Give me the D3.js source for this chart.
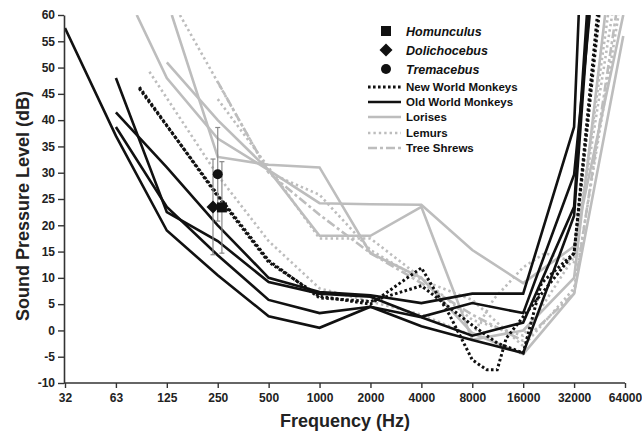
<!DOCTYPE html>
<html><head><meta charset="utf-8">
<script src="https://cdn.jsdelivr.net/npm/d3@7/dist/d3.min.js"></script>
<style>
body{margin:0;background:#fff;}
text{font-family:Arial,"Liberation Sans",Helvetica,sans-serif;}
</style>
</head><body>
<svg id="chart" width="642" height="438"></svg>
<script>
// ---- axis ticks ----
const freqTicks = [32,64,128,256,512,1024,2048,4096,8192,16384,32768,65536];
const freqLabels = ["32","63","125","250","500","1000","2000","4000","8000","16000","32000","64000"];
const dbTicks = [-10,-5,0,5,10,15,20,25,30,35,40,45,50,55,60];

// ---- Old World Monkeys (solid black) : [Hz, dB] ----
const owmA = [[32,57.5],[64,37],[128,19],[256,10.5],[512,2.7],[1024,0.5],[2048,4.5],[4096,0.8],[8192,-1.8],[16384,-4.3],[32768,21.8],[40000,60]];
const owmB = [[64,48],[128,22.5],[256,17],[512,9.2],[1024,7.0],[2048,6.4],[4096,2.6],[8192,5.2],[16384,3.3],[32768,29.6],[40500,60]];
const owmC = [[64,41.5],[128,31],[256,20],[512,10],[1024,7.3],[2048,6.7],[4096,5.2],[8192,7],[16384,7],[32768,38.7],[34900,60]];
const owmD = [[64,38.7],[128,23.5],[256,14.3],[512,5.8],[1024,3.3],[2048,4.5],[4096,2.5],[8192,-1],[16384,1.5],[32768,23.5],[39000,60]];

// ---- New World Monkeys (dotted black) ----
const nwmA = [[88,46.3],[256,25.5],[512,13],[1024,6.5],[2048,5],[4096,11.9],[6000,3],[8192,-5.6],[10000,-7.5],[11500,-7.5],[13000,-1.5],[16384,2.6],[32768,14.7],[46000,60]];
const nwmB = [[88,46],[256,25.8],[512,13.3],[1024,6.2],[2048,5.5],[4096,8.5],[8192,1],[11500,-2.4],[16384,-4.3],[21000,9],[32768,14.7],[45000,60]];

// ---- Lorises (solid grey) ----
const lorA = [[85,60],[128,48],[256,36.5],[512,30.5],[1024,24.2],[2048,24],[4096,23.9],[8192,15.3],[16384,9],[32768,16],[64000,60]];
const lorB = [[137,60],[256,33],[512,31.5],[1024,31],[2048,14.7],[4096,10],[8192,-0.5],[16384,-4.5],[32768,7],[64000,56]];
const lorC = [[128,51],[256,40],[512,30.5],[1024,18],[2048,18],[4096,23.5],[8192,-1.8],[16384,0],[32768,10],[50000,60]];

// ---- Lemurs (dotted grey) ----
const lemA = [[101,49.2],[256,29.5],[512,17],[1024,8],[2048,5.5],[4096,3],[8192,-1],[11000,6],[16384,12],[22000,14.7],[32768,13],[52000,60]];
const lemB = [[153,60],[512,30],[1024,25.8],[2048,15.3],[4096,9.6],[8192,5.8],[16384,-3],[32768,8],[60000,60]];
const lemC = [[256,44],[512,31],[1024,17.5],[2048,17.5],[4096,10],[8192,2],[16384,-1],[32768,14],[55000,60]];

// ---- Tree Shrews (dash-dot grey) ----
const tshA = [[256,47.3],[512,30],[1024,22],[2048,14.7],[4096,9],[8192,3],[16384,-2],[32768,7],[58000,60]];

// ---- fossil estimates ----
const fossilNames = ["Homunculus","Dolichocebus","Tremacebus"];
const fossilShapes = ["square","diamond","circle"];
const fossilFreq = [271,240,256];
const fossilDb = [23.4,23.5,29.7];
const fossilErr = [8.7,9.1,8.9];

// ---- legend ----
const legendLines = ["New World Monkeys","Old World Monkeys","Lorises","Lemurs","Tree Shrews"];

const svg = d3.select("#chart");
const x = d3.scaleLog().base(2).domain([32,65536]).range([65,625]);
const y = d3.scaleLinear().domain([-10,60]).range([383,15]);

const BLACK = "#111", GREY = "#bdbdbd";
const styles = {
  owm:{stroke:BLACK,width:2.6,dash:null},
  nwm:{stroke:BLACK,width:3,dash:"2.6,2.4"},
  lor:{stroke:GREY,width:2.6,dash:null},
  lem:{stroke:GREY,width:2.6,dash:"2.4,3"},
  tsh:{stroke:GREY,width:2.6,dash:"9,3,3,3"}
};

svg.append("defs").append("clipPath").attr("id","plot")
  .append("rect").attr("x",64).attr("y",15).attr("width",578).attr("height",368);

const g = svg.append("g").attr("clip-path","url(#plot)");
const line = d3.line().x(d=>x(d[0])).y(d=>y(d[1]));

function draw(data, st){
  g.append("path").datum(data).attr("d",line)
   .attr("fill","none").attr("stroke",st.stroke).attr("stroke-width",st.width)
   .attr("stroke-dasharray",st.dash).attr("stroke-linejoin","miter");
}
[lorA,lorB,lorC].forEach(d=>draw(d,styles.lor));
[lemA,lemB,lemC].forEach(d=>draw(d,styles.lem));
[tshA].forEach(d=>draw(d,styles.tsh));
[nwmA,nwmB].forEach(d=>draw(d,styles.nwm));
[owmA,owmB,owmC,owmD].forEach(d=>draw(d,styles.owm));

// error bars + markers
const fg = svg.append("g");
fossilNames.forEach((n,i)=>{
  const cx = x(fossilFreq[i]);
  const y1 = y(fossilDb[i]+fossilErr[i]), y2 = y(fossilDb[i]-fossilErr[i]);
  fg.append("line").attr("x1",cx).attr("x2",cx).attr("y1",y1).attr("y2",y2)
    .attr("stroke","#888").attr("stroke-width",1.2);
  [y1,y2].forEach(yy=>fg.append("line").attr("x1",cx-2.5).attr("x2",cx+2.5).attr("y1",yy).attr("y2",yy)
    .attr("stroke","#888").attr("stroke-width",1.2));
});
function marker(sel, shape, cx, cy){
  if(shape==="square") sel.append("rect").attr("x",cx-5).attr("y",cy-5).attr("width",10).attr("height",10).attr("fill",BLACK);
  else if(shape==="diamond") sel.append("path").attr("d",`M${cx},${cy-6.5}L${cx+6.5},${cy}L${cx},${cy+6.5}L${cx-6.5},${cy}Z`).attr("fill",BLACK);
  else sel.append("circle").attr("cx",cx).attr("cy",cy).attr("r",5).attr("fill",BLACK);
}
fossilNames.forEach((n,i)=>marker(fg,fossilShapes[i],x(fossilFreq[i]),y(fossilDb[i])));

// axes
const xAxis = svg.append("g").attr("transform","translate(0,383)")
  .call(d3.axisBottom(x).tickValues(freqTicks).tickFormat((d,i)=>freqLabels[i]).tickSize(5).tickSizeOuter(0));
const yAxis = svg.append("g").attr("transform","translate(64,0)")
  .call(d3.axisLeft(y).tickValues(dbTicks).tickFormat(d=>d).tickSize(6).tickSizeOuter(0));
[xAxis,yAxis].forEach(a=>{
  a.select(".domain").attr("stroke","#333").attr("stroke-width",1.6);
  a.selectAll(".tick line").attr("stroke","#333").attr("stroke-width",1.4);
  a.selectAll(".tick text").attr("fill","#222").attr("font-size",12).attr("font-weight","bold")
   .attr("font-family","Arial, 'Liberation Sans', sans-serif");
});
xAxis.select(".domain").attr("d","M64,0H625");
xAxis.selectAll(".tick text").attr("dy","0.9em");
yAxis.selectAll(".tick text").attr("x",-9);

svg.append("text").attr("x",345).attr("y",427).attr("text-anchor","middle")
  .attr("font-size",18).attr("font-weight","bold").attr("fill","#222").text("Frequency (Hz)");
svg.append("text").attr("transform","translate(29,206) rotate(-90)").attr("text-anchor","middle")
  .attr("font-size",18).attr("font-weight","bold").attr("fill","#222").text("Sound Pressure Level (dB)");

// legend
const lg = svg.append("g");
const fossilRowY = [31,50,69];
fossilNames.forEach((n,i)=>{
  marker(lg,fossilShapes[i],386,fossilRowY[i]);
  lg.append("text").attr("x",406).attr("y",fossilRowY[i]+4.5).attr("font-size",12.5)
    .attr("font-weight","bold").attr("font-style","italic").attr("fill","#111").text(n);
});
const lineRowY = [87,102,117,133,148];
const lineStyles = [styles.nwm,styles.owm,styles.lor,styles.lem,styles.tsh];
legendLines.forEach((n,i)=>{
  const st = lineStyles[i];
  lg.append("line").attr("x1",368).attr("x2",401).attr("y1",lineRowY[i]).attr("y2",lineRowY[i])
    .attr("stroke",st.stroke).attr("stroke-width",st.width).attr("stroke-dasharray",st.dash);
  lg.append("text").attr("x",406).attr("y",lineRowY[i]+4).attr("font-size",11.5)
    .attr("font-weight","bold").attr("fill","#111").text(n);
});
</script>
</body></html>
